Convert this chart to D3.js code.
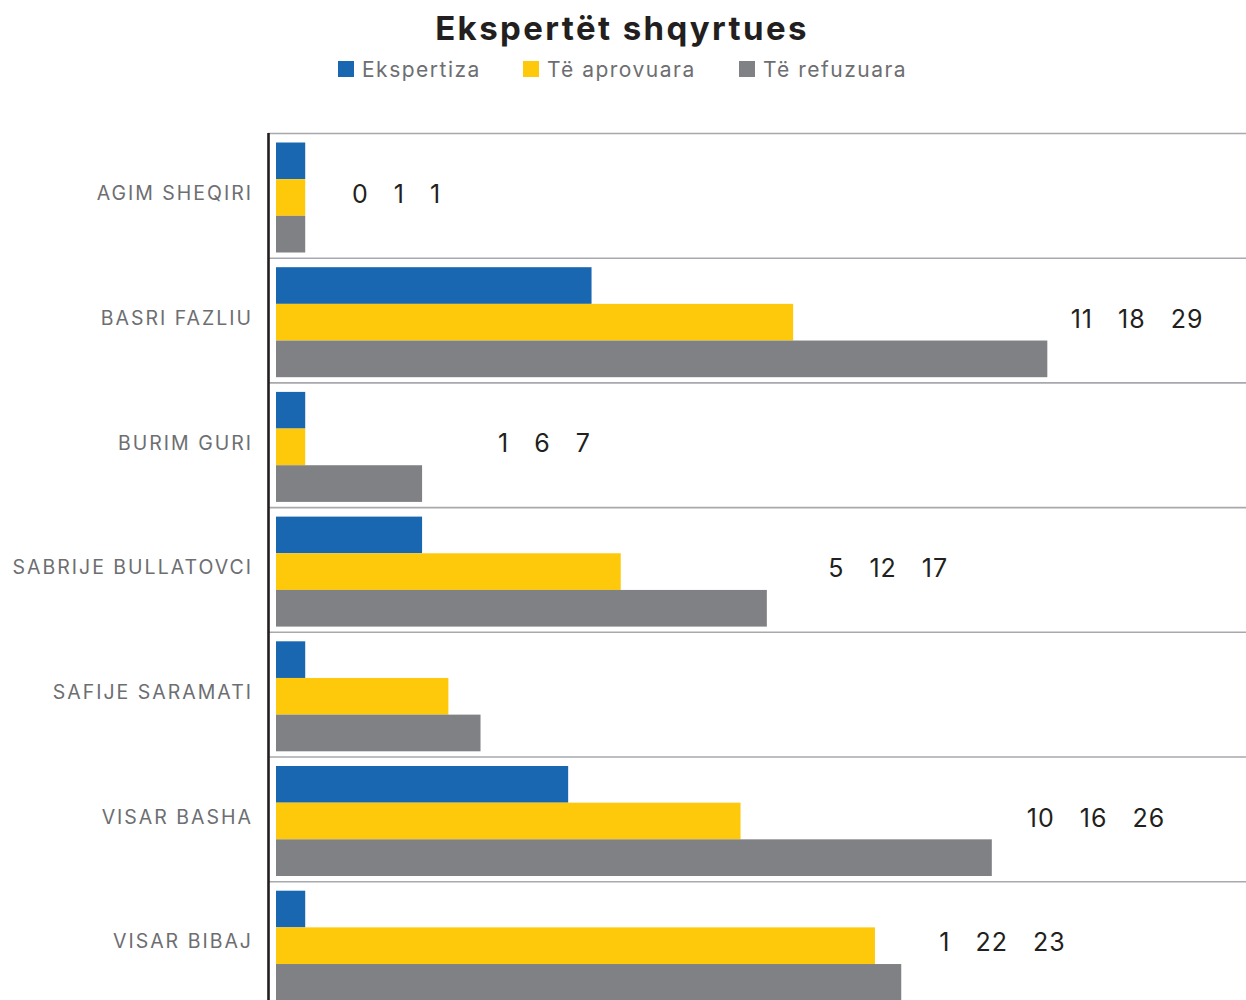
<!DOCTYPE html>
<html>
<head>
    <meta charset="utf-8">
    <title>Ekspertët shqyrtues</title>
    <script src="https://cdnjs.cloudflare.com/ajax/libs/d3/7.8.5/d3.min.js"></script>
    <style>
        body { margin: 0; background: #fff; }
        svg { display: block; font-family: Inter, Lato, "Noto Sans", sans-serif; }
    </style>
</head>
<body>
<svg id="chart" width="1246" height="1000"></svg>
<script>
    // data
    var experts = ["AGIM SHEQIRI", "BASRI FAZLIU", "BURIM GURI", "SABRIJE BULLATOVCI", "SAFIJE SARAMATI", "VISAR BASHA", "VISAR BIBAJ"];
    var series = ["Ekspertiza", "Të aprovuara", "Të refuzuara"];
    var ekspertiza = [1, 10.8, 1, 5, 1, 10, 1];
    var aprovuara = [1, 17.7, 1, 11.8, 5.9, 15.9, 20.5];
    var refuzuara = [1, 26.4, 5, 16.8, 7, 24.5, 21.4];
    // the numbers printed next to each group, and where they sit (in bar units)
    var printed = [["0", "1", "1"], ["11", "18", "29"], ["1", "6", "7"], ["5", "12", "17"], [], ["10", "16", "26"], ["1", "22", "23"]];
    var printedAt = [2.6, 27.2, 7.6, 18.9, 0, 25.7, 22.7];

    var colors = ["#1a67b1", "#ffc90b", "#808184"];

    var svg = d3.select("#chart");

    var x = d3.scaleLinear().domain([0, 33.2]).range([276, 1246]);
    var y = d3.scaleBand().domain(experts).range([133, 133 + 7 * 124.7]);
    var ySub = d3.scaleBand().domain(series).range([9.5, 119.5]);

    var rows = experts.map(function(name, i) {
        return { name: name, values: [ekspertiza[i], aprovuara[i], refuzuara[i]], printed: printed[i], at: printedAt[i] };
    });

    // title + legend
    svg.append("text")
        .attr("x", 622).attr("y", 40)
        .attr("text-anchor", "middle")
        .style("font-size", "33px").style("font-weight", "700").style("fill", "#231f20")
        .style("letter-spacing", "2.4px")
        .text("Ekspertët shqyrtues");

    var legendX = [338, 523, 739];
    series.forEach(function(s, i) {
        svg.append("rect")
            .attr("x", legendX[i]).attr("y", 61)
            .attr("width", 16).attr("height", 16)
            .style("fill", colors[i]);
        svg.append("text")
            .attr("x", legendX[i] + 24).attr("y", 77)
            .style("font-size", "21px").style("fill", "#6d6e71")
            .style("letter-spacing", "1.5px")
            .text(s);
    });

    // gridlines at the top of each band
    svg.selectAll("line.grid").data(experts)
        .enter().append("line")
        .attr("class", "grid")
        .attr("x1", 268).attr("x2", 1246)
        .attr("y1", function(d) { return y(d) + 0.5; })
        .attr("y2", function(d) { return y(d) + 0.5; })
        .style("stroke", "#a7a9ac").style("stroke-width", 1.6);

    var groups = svg.selectAll("g.row").data(rows)
        .enter().append("g")
        .attr("class", "row")
        .attr("transform", function(d) { return "translate(0," + y(d.name) + ")"; });

    groups.selectAll("rect").data(function(d) { return d.values; })
        .enter().append("rect")
        .attr("x", x(0))
        .attr("y", function(d, i) { return ySub(series[i]); })
        .attr("width", function(d) { return x(d) - x(0); })
        .attr("height", ySub.bandwidth())
        .style("fill", function(d, i) { return colors[i]; });

    groups.append("text")
        .attr("x", 253)
        .attr("y", y.bandwidth() / 2 - 2)
        .attr("dy", "0.35em")
        .attr("text-anchor", "end")
        .style("font-size", "19.5px").style("fill", "#6d6e71").style("letter-spacing", "2px")
        .text(function(d) { return d.name; });

    var vlabels = groups.filter(function(d) { return d.printed.length > 0; })
        .append("text")
        .attr("x", function(d) { return x(d.at); })
        .attr("y", y.bandwidth() / 2 - 1)
        .attr("dy", "0.35em")
        .style("font-size", "25px").style("fill", "#231f20").style("letter-spacing", "1px");

    vlabels.selectAll("tspan").data(function(d) { return d.printed; })
        .enter().append("tspan")
        .attr("dx", function(d, i) { return i === 0 ? 0 : 25; })
        .text(function(d) { return d; });

    // vertical axis line
    svg.append("line")
        .attr("x1", 268.5).attr("x2", 268.5)
        .attr("y1", 133).attr("y2", 1000)
        .style("stroke", "#231f20").style("stroke-width", 2.6);
</script>
</body>
</html>
